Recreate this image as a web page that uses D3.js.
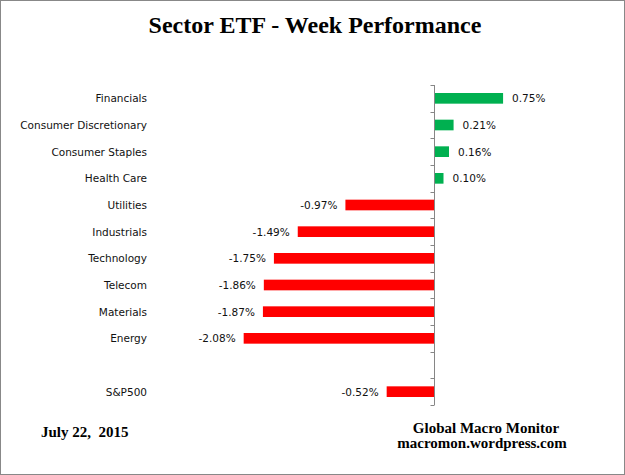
<!DOCTYPE html>
<html>
<head>
<meta charset="utf-8">
<script src="https://cdn.jsdelivr.net/npm/d3@7"></script>
<style>
  body { margin: 0; background: #fff; }
  .cat, .val { font-family: "DejaVu Sans", Verdana, sans-serif; font-size: 10.5px; fill: #111; }
  .serif { font-family: "Liberation Serif", "Times New Roman", serif; font-weight: bold; fill: #000; }
</style>
</head>
<body>
<script>
var width = 625, height = 475;

// data
var sectors = ["Financials", "Consumer Discretionary", "Consumer Staples", "Health Care",
               "Utilities", "Industrials", "Technology", "Telecom", "Materials", "Energy",
               "", "S&P500"];
var changes = [0.75, 0.21, 0.16, 0.10, -0.97, -1.49, -1.75, -1.86, -1.87, -2.08, null, -0.52];

var rows = sectors.map(function (s, i) { return {key: "r" + i, name: s, value: changes[i]}; });

var svg = d3.select("body").append("svg")
    .attr("width", width)
    .attr("height", height);

// outer frame
svg.append("rect")
    .attr("x", 0.5).attr("y", 0.5)
    .attr("width", width - 1).attr("height", height - 1)
    .attr("fill", "#fff")
    .attr("stroke", "#888");

var x = d3.scaleLinear().domain([-2.6, 1]).range([196, 526]);
var y = d3.scaleBand()
    .domain(rows.map(function (d) { return d.key; }))
    .range([85, 405])
    .paddingInner(0.6)
    .paddingOuter(0.3);

svg.append("text")
    .attr("class", "serif")
    .attr("x", 315).attr("y", 33)
    .attr("text-anchor", "middle")
    .style("font-size", "24px")
    .text("Sector ETF - Week Performance");

// bars
var bars = rows.filter(function (d) { return d.value !== null; });
svg.selectAll(".bar")
    .data(bars)
    .enter().append("rect")
    .attr("class", "bar")
    .attr("x", function (d) { return x(Math.min(0, d.value)); })
    .attr("y", function (d) { return y(d.key); })
    .attr("width", function (d) { return Math.abs(x(d.value) - x(0)); })
    .attr("height", y.bandwidth())
    .attr("fill", function (d) { return d.value >= 0 ? "#00b050" : "#ff0000"; });

// zero axis with ticks between categories
var x0 = Math.round(x(0)) + 0.5;
svg.append("line")
    .attr("x1", x0).attr("x2", x0)
    .attr("y1", 85).attr("y2", 405)
    .attr("stroke", "#868686");
var bounds = d3.range(rows.length + 1).map(function (i) { return 85 + i * y.step(); });
svg.selectAll(".tick")
    .data(bounds)
    .enter().append("line")
    .attr("x1", x0 - 4).attr("x2", x0)
    .attr("y1", function (d) { return Math.round(d) + 0.5; })
    .attr("y2", function (d) { return Math.round(d) + 0.5; })
    .attr("stroke", "#868686");

// category labels
svg.selectAll(".cat")
    .data(rows)
    .enter().append("text")
    .attr("class", "cat")
    .attr("x", 147)
    .attr("y", function (d) { return y(d.key) + y.bandwidth() / 2 + 4; })
    .attr("text-anchor", "end")
    .text(function (d) { return d.name; });

// value labels
svg.selectAll(".val")
    .data(bars)
    .enter().append("text")
    .attr("class", "val")
    .attr("x", function (d) { return d.value >= 0 ? x(d.value) + 9 : x(d.value) - 8; })
    .attr("y", function (d) { return y(d.key) + y.bandwidth() / 2 + 4; })
    .attr("text-anchor", function (d) { return d.value >= 0 ? "start" : "end"; })
    .text(function (d) { return d.value.toFixed(2) + "%"; });

// footer
svg.append("text").attr("class", "serif")
    .attr("x", 41).attr("y", 437)
    .style("font-size", "15px")
    .style("white-space", "pre")
    .text("July 22,  2015");
svg.append("text").attr("class", "serif")
    .attr("x", 486).attr("y", 433)
    .attr("text-anchor", "middle")
    .style("font-size", "15px")
    .text("Global Macro Monitor");
svg.append("text").attr("class", "serif")
    .attr("x", 482).attr("y", 447.5)
    .attr("text-anchor", "middle")
    .style("font-size", "15px")
    .text("macromon.wordpress.com");
</script>
</body>
</html>
